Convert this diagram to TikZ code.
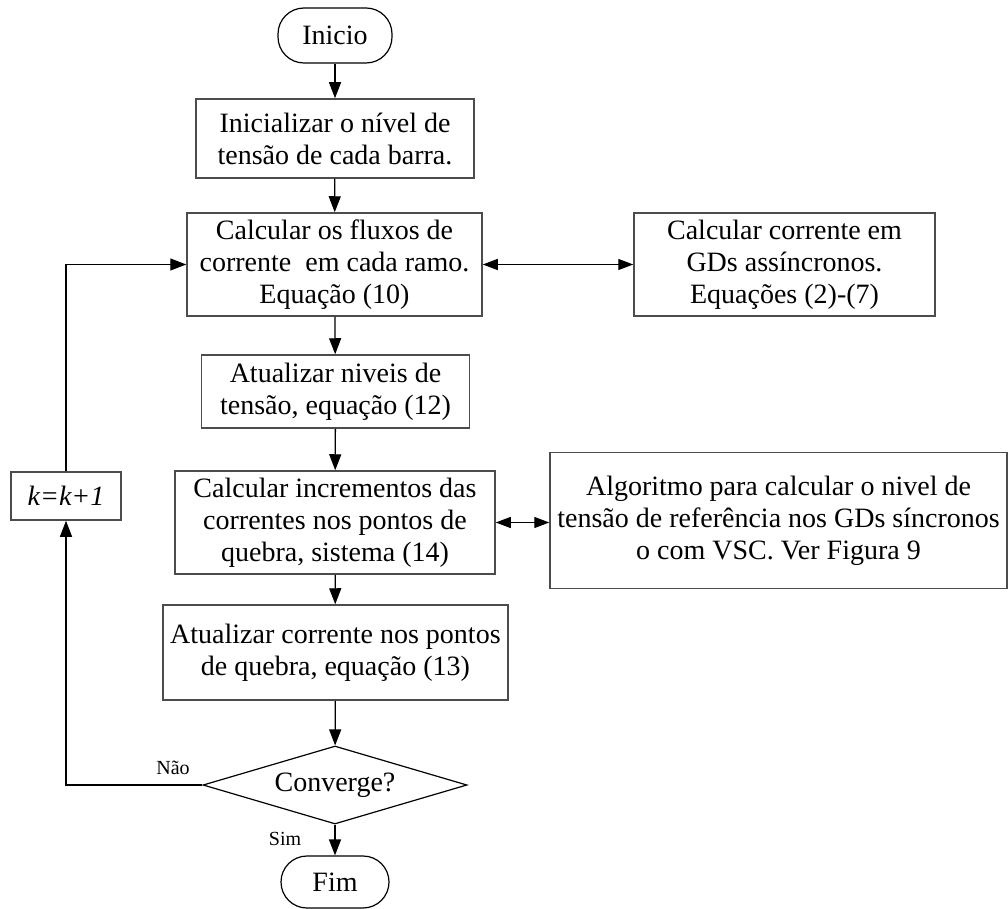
\documentclass[tikz,border=0pt]{standalone}
\usepackage{fontspec}
\setmainfont{Liberation Serif}
\usetikzlibrary{arrows.meta,shapes.geometric}

\tikzset{
  boxtext/.style={font=\fontsize{28}{32}\selectfont, align=center, inner sep=0pt},
  procbox/.style={boxtext, draw=black!70, line width=1.5pt, rectangle},
  termbox/.style={boxtext, draw=black, line width=1.2pt, rectangle, rounded corners=26pt},
  decbox/.style={boxtext, draw=black, line width=1.2pt, diamond, aspect=3.4},
  flow/.style={draw=black, line width=1.3pt, -{Triangle[length=16pt,width=12pt]}},
  both/.style={draw=black, line width=1.3pt, {Triangle[length=15pt,width=11pt]}-{Triangle[length=15pt,width=11pt]}},
  branch/.style={font=\fontsize{20}{24}\selectfont, inner sep=0pt}
}

\begin{document}
\begin{tikzpicture}[x=1pt,y=-1pt]
\useasboundingbox (0,0) rectangle (1008,909);

% main column
\node[termbox, minimum width=114pt, minimum height=55pt] (ini) at (335,35.5) {Inicio};
\node[procbox, minimum width=278pt, minimum height=79pt] (b1) at (335,138.5)
  {Inicializar o nível de\\tensão de cada barra.};
\node[procbox, minimum width=295pt, minimum height=103pt] (b2) at (334.5,264.5)
  {Calcular os fluxos de\\corrente\ \ em cada ramo.\\Equação (10)};
\node[procbox, minimum width=268pt, minimum height=73pt] (b3) at (335.5,391.5)
  {Atualizar niveis de\\tensão, equação (12)};
\node[procbox, minimum width=320pt, minimum height=103pt] (b4) at (335,522.5)
  {Calcular incrementos das\\correntes nos pontos de\\quebra, sistema (14)};
\node[procbox, minimum width=345pt, minimum height=95pt] (b5) at (335.4,652.5)
  {Atualizar corrente nos pontos\\de quebra, equação (13)};
\node[decbox, minimum width=264pt, minimum height=78pt] (dec) at (335,785) {Converge?};
\node[termbox, minimum width=108pt, minimum height=52pt] (fim) at (335,882) {Fim};

% side blocks
\node[procbox, minimum width=301pt, minimum height=103pt] (r1) at (784.5,264.5)
  {Calcular corrente em\\GDs assíncronos.\\Equações (2)-(7)};
\node[procbox, minimum width=457pt, minimum height=136pt] (r2) at (778.5,520.5)
  {Algoritmo para calcular o nivel de\\tensão de referência nos GDs síncronos\\o com VSC. Ver Figura 9};
\node[procbox, minimum width=110pt, minimum height=48pt] (k) at (66,496) {\textit{k=k+1}};

% main flow
\draw[flow] (ini) -- (b1);
\draw[flow] (b1) -- (b2);
\draw[flow] (b2) -- (b3);
\draw[flow] (b3) -- (b4);
\draw[flow] (b4) -- (b5);
\draw[flow] (b5) -- (dec);
\draw[flow] (dec) -- (fim);

% exchanges with side blocks
\draw[both] (b2.east) -- (r1.west);
\draw[both] (b4.east) -- (b4.east -| r2.west);

% iteration loop
\draw[flow] (dec.west) -| (k.south);
\draw[flow] (k.north) |- (b2.west);

% branch labels
\node[branch] (nao) at (173,768) {Não};
\node[branch] (sim) at (285,839) {Sim};
\end{tikzpicture}
\end{document}
